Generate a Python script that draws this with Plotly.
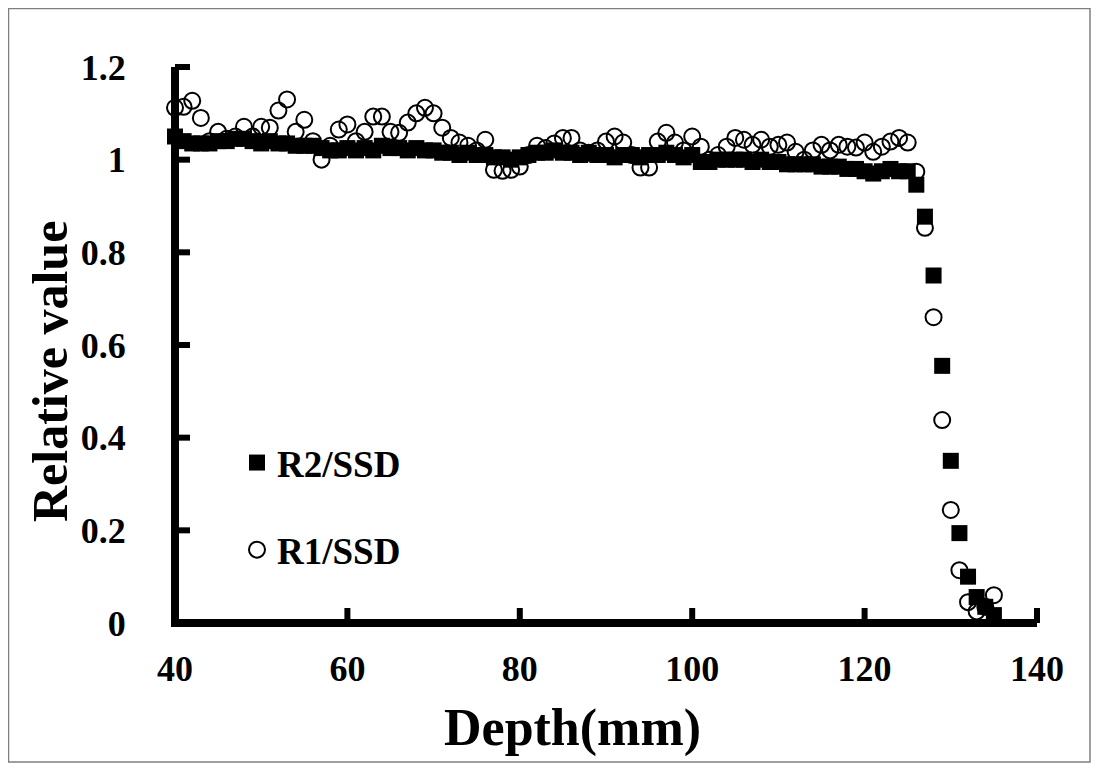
import plotly.graph_objects as go

depth = list(range(40, 136))

r2_ssd = [
    1.05, 1.04, 1.035, 1.035, 1.035, 1.04, 1.04, 1.045, 1.045, 1.04,
    1.035, 1.04, 1.035, 1.035, 1.03, 1.03, 1.03, 1.025, 1.02, 1.02,
    1.025, 1.02, 1.025, 1.02, 1.03, 1.025, 1.025, 1.02, 1.025, 1.02,
    1.02, 1.015, 1.015, 1.01, 1.015, 1.01, 1.01, 1.005, 1.005, 1.0,
    1.005, 1.01, 1.015, 1.015, 1.02, 1.015, 1.015, 1.01, 1.015, 1.01,
    1.01, 1.005, 1.01, 1.01, 1.005, 1.01, 1.01, 1.015, 1.01, 1.005,
    1.01, 0.995, 0.995, 1.0, 1.0, 1.0, 1.0, 0.995, 1.0, 0.995,
    0.995, 0.99, 0.99, 0.99, 0.99, 0.985, 0.985, 0.985, 0.98, 0.98,
    0.975, 0.97, 0.975, 0.98, 0.975, 0.975, 0.946, 0.877, 0.75, 0.555,
    0.35, 0.194, 0.1, 0.056, 0.035, 0.017,
]

r1_ssd = [
    1.112, 1.114, 1.127, 1.09, 1.04, 1.06, 1.045, 1.05, 1.071, 1.05,
    1.071, 1.069, 1.106, 1.13, 1.06, 1.086, 1.04, 1.0, 1.03, 1.065,
    1.076, 1.04, 1.06, 1.093, 1.093, 1.06, 1.058, 1.08, 1.10, 1.112,
    1.10, 1.069, 1.047, 1.037, 1.03, 1.02, 1.043, 0.978, 0.976, 0.978,
    0.985, 1.01, 1.03, 1.025, 1.035, 1.047, 1.047, 1.02, 1.015, 1.02,
    1.039, 1.05, 1.037, 1.01, 0.983, 0.983, 1.039, 1.058, 1.037, 1.02,
    1.05, 1.028, 1.0, 1.01, 1.028, 1.047, 1.043, 1.032, 1.043, 1.028,
    1.032, 1.037, 1.017, 1.0, 1.02, 1.032, 1.02, 1.032, 1.028, 1.026,
    1.037, 1.017, 1.028, 1.039, 1.047, 1.037, 0.974, 0.853, 0.66, 0.438,
    0.244, 0.114, 0.045, 0.025, 0.035, 0.06,
]

x_ticks = [40, 60, 80, 100, 120, 140]
y_ticks = [0, 0.2, 0.4, 0.6, 0.8, 1, 1.2]
y_tick_labels = ["0", "0.2", "0.4", "0.6", "0.8", "1", "1.2"]

X_RANGE = [40, 140]
Y_RANGE = [0, 1.2]

FONT = "Liberation Serif, Times New Roman, serif"

fig = go.Figure()
fig.add_trace(go.Scatter(
    x=depth, y=r1_ssd, mode="markers", name="<b>R1/SSD</b>",
    legendgroup="r1", legendrank=2, cliponaxis=False,
    marker=dict(symbol="circle-open", size=16, color="black",
                line=dict(width=2, color="black")),
))
fig.add_trace(go.Scatter(
    x=depth, y=r2_ssd, mode="markers", name="<b>R2/SSD</b>",
    legendgroup="r2", legendrank=1, cliponaxis=False,
    marker=dict(symbol="square", size=16, color="black",
                line=dict(width=0)),
))

# page has an 8px body margin; figure coordinates = page coordinates - 8
OFF = 8
W, H = 1099 - OFF, 771 - OFF
L, R, T, B = 175 - OFF, 1037 - OFF, 67 - OFF, 623 - OFF

def px_x(p):
    return (p - OFF - L) / (R - L)

def px_y(p):
    return (B - (p - OFF)) / (B - T)

# outer frame
fig.add_shape(type="rect", xref="paper", yref="paper",
              x0=px_x(8.5), x1=px_x(1090), y0=px_y(762), y1=px_y(8.5),
              line=dict(color="#808080", width=1.5), fillcolor="rgba(0,0,0,0)",
              layer="below")

# thick axis lines centred on the axis positions (paper refs are not clipped)
fig.add_shape(type="line", xref="paper", yref="paper", x0=px_x(171), x1=1,
              y0=0, y1=0, line=dict(color="black", width=8))
fig.add_shape(type="line", xref="paper", yref="paper", x0=0, x1=0,
              y0=0, y1=1, line=dict(color="black", width=8))

# inside tick marks at the tick values (converted to axis fraction)
TICKLEN = 15
for v in x_ticks[1:]:
    fx = (v - X_RANGE[0]) / (X_RANGE[1] - X_RANGE[0])
    fig.add_shape(type="line", xref="paper", yref="paper",
                  x0=fx, x1=fx, ysizemode="pixel", yanchor=0, y0=0, y1=TICKLEN,
                  line=dict(color="black", width=6))
for v in y_ticks[1:]:
    fy = (v - Y_RANGE[0]) / (Y_RANGE[1] - Y_RANGE[0])
    fig.add_shape(type="line", xref="paper", yref="paper",
                  y0=fy, y1=fy, xsizemode="pixel", xanchor=0, x0=0, x1=TICKLEN,
                  line=dict(color="black", width=6))

fig.add_annotation(text="<b>Depth(mm)</b>", xref="paper", yref="paper",
                   x=px_x(572), y=px_y(728), xanchor="center", yanchor="middle",
                   showarrow=False, font=dict(size=52, family=FONT, color="black"))
fig.add_annotation(text="<b>Relative value</b>", xref="paper", yref="paper",
                   x=px_x(50), y=px_y(372), xanchor="center", yanchor="middle",
                   textangle=-90, showarrow=False,
                   font=dict(size=50, family=FONT, color="black"))

fig.update_layout(
    width=W, height=H,
    margin=dict(l=L, r=W - R, t=T, b=H - B, pad=0),
    paper_bgcolor="white", plot_bgcolor="white",
    font=dict(family=FONT, color="black", size=36),
    showlegend=True,
    legend=dict(x=px_x(237), y=px_y(432), xanchor="left", yanchor="top",
                bgcolor="rgba(0,0,0,0)", font=dict(size=37, family=FONT),
                traceorder="grouped", tracegroupgap=36,
                itemwidth=30),
    xaxis=dict(
        range=X_RANGE, tickvals=x_ticks, ticktext=[f"<b>{v}</b>" for v in x_ticks],
        showgrid=False, zeroline=False, automargin=False,
        showline=True, linecolor="rgba(0,0,0,0)", linewidth=1,
        ticks="", ticklabelstandoff=14,
        tickfont=dict(size=36, family=FONT),
    ),
    yaxis=dict(
        range=Y_RANGE, tickvals=y_ticks, ticktext=[f"<b>{t}</b>" for t in y_tick_labels],
        showgrid=False, zeroline=False, automargin=False,
        showline=True, linecolor="rgba(0,0,0,0)", linewidth=1,
        ticks="", ticklabelstandoff=41,
        tickfont=dict(size=36, family=FONT),
    ),
)

fig.write_html("out.html")
